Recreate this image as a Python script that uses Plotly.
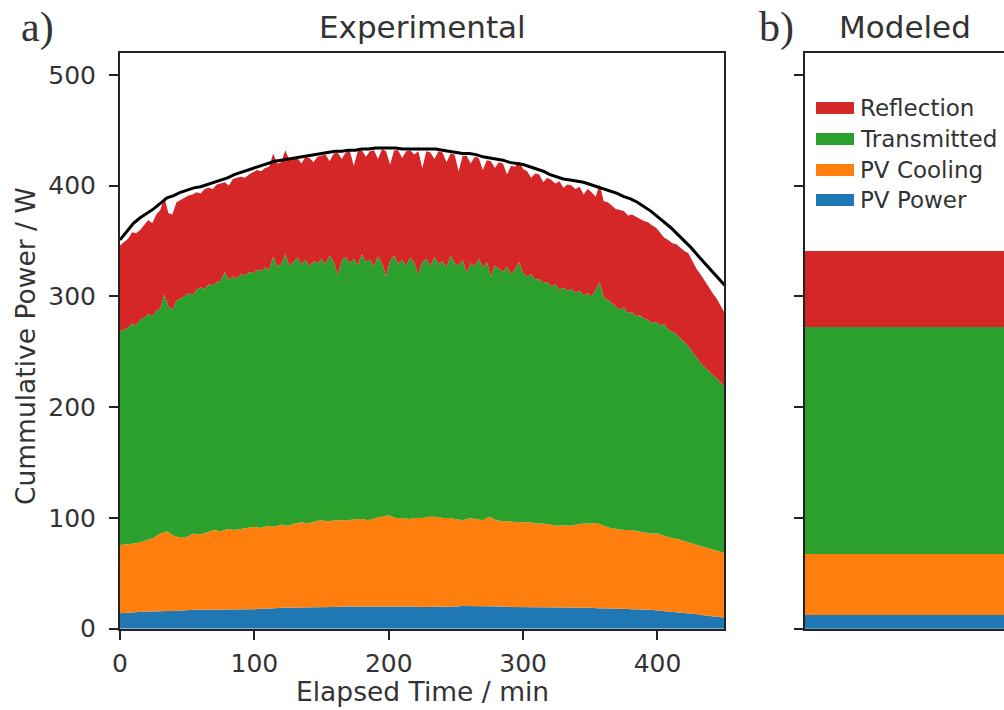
import plotly.graph_objects as go

# Elapsed time grids (min)
elapsed_5min = list(range(0, 451, 5))
elapsed_3min = list(range(0, 451, 3))

# Experimental data as cumulative power levels (W): each band's upper edge
# PV Power and PV Cooling logged every 5 min
pv_power_level = [
    14, 14.5, 15, 15, 15.5, 15.5, 16, 16, 16, 16.5,
    16.5, 17, 17, 17, 17.5, 17.5, 17.5, 17.5, 17.5, 17.5,
    17.5, 18, 18, 18.5, 19, 19, 19, 19, 19.5, 19.5,
    19.5, 19.5, 19.5, 20, 20, 20, 20, 20, 20, 20.5,
    20.5, 20.5, 20, 20, 20, 19.5, 19.5, 19.5, 20, 20,
    20, 20.5, 20.5, 20.5, 20.5, 20, 20, 20, 19.5, 19.5,
    19.5, 19.5, 19.5, 19, 19.5, 19.5, 19, 19, 19, 19,
    19, 18.5, 18.5, 18, 18, 18, 17.5, 17.5, 17, 17,
    16.5, 16, 15.5, 15, 14, 13.5, 13, 12, 11.5, 11,
    10,
]
pv_cooling_level = [
    75.5, 76, 77, 78, 80, 82, 86, 88, 84, 82,
    83, 86, 85, 87, 89, 88, 90, 89, 90, 91,
    92, 91, 93, 92, 94, 93, 95, 96, 95, 97,
    98, 97, 98, 98, 98, 99, 99, 98, 100, 101,
    102.5, 100, 100, 99, 100, 100, 101, 101, 100, 100,
    99, 98, 100, 99, 98, 101, 98, 97, 97, 96,
    96, 96, 95, 95, 94, 93, 93.5, 93, 94, 95,
    95, 95.5, 93, 91, 90, 89, 89, 88, 87, 86,
    86, 84, 82, 81, 79, 77, 75, 73.5, 72, 70,
    68.5,
]
# Transmitted and Reflection logged every 3 min
transmitted_level = [
    268, 270, 272, 275, 274, 279, 281, 284, 282, 287,
    289, 302, 291, 288, 296, 298, 300, 303, 301, 306,
    308, 307, 311, 310, 313, 314, 322, 315, 318, 316,
    320, 319, 322, 321, 324, 323, 326, 324, 336, 327,
    329, 338, 328, 331, 335, 329, 333, 327, 332, 330,
    334, 329, 337, 331, 319, 332, 336, 330, 334, 328,
    338, 331, 333, 327, 336, 330, 318, 332, 337, 329,
    333, 328, 335, 330, 320, 331, 334, 327, 336, 329,
    332, 326, 337, 330, 328, 333, 321, 330, 327, 334,
    326, 331, 318, 328, 325, 322, 327, 320, 324, 331,
    321, 318, 320, 315, 316, 312, 313, 309, 311, 306,
    308, 305, 307, 303, 305, 301, 303, 300, 306, 313,
    299, 297, 294, 291, 288, 290, 285, 286, 282, 283,
    280, 279, 276, 277, 274, 275, 270, 268, 266, 262,
    259, 255, 250, 244, 240, 236, 233, 229, 226, 222,
    219,
]
reflection_level = [
    346, 349, 352, 358, 357, 360, 364, 369, 366, 374,
    378, 390, 375, 374, 385, 387, 389, 391, 392, 394,
    393, 397, 398, 397, 401, 402, 403, 400, 406, 407,
    408, 407, 410, 412, 414, 413, 416, 417, 429, 420,
    421, 432, 423, 424, 425, 420, 426, 425, 421, 426,
    427, 428, 422, 429, 430, 424, 430, 431, 418, 431,
    432, 426, 431, 432, 424, 433, 431, 419, 432, 432,
    425, 431, 432, 428, 431, 416, 431, 430, 424, 431,
    430, 421, 429, 428, 413, 427, 427, 420, 426, 425,
    414, 423, 422, 416, 421, 420, 410, 418, 417, 422,
    415, 413, 407, 411, 410, 403, 407, 405, 402, 404,
    398, 401, 400, 397, 399, 392, 397, 394, 390, 401,
    386, 385, 382, 379, 378, 377, 373, 374, 372, 370,
    368, 367, 364, 362, 357, 353, 351, 348, 347, 344,
    341, 339, 332, 325, 320, 314, 309, 303, 298, 292,
    285,
]
# Total incident power (W), every 5 min
total_incident = [
    351, 358, 366, 371, 375, 379, 384, 389, 391, 394,
    396, 398, 399, 401, 403, 405, 407, 410, 412, 414,
    416, 418, 420, 422, 423, 424, 425, 426, 427, 428,
    429, 430, 431, 431, 432, 432, 433, 433, 434, 434,
    434, 434, 433, 433, 433, 433, 433, 433, 432, 431,
    430, 429, 429, 428, 426, 425, 424, 423, 421, 420,
    419, 417, 415, 413, 410, 408, 406, 405, 404, 403,
    401, 399, 397, 395, 393, 390, 388, 385, 381, 377,
    372, 367, 362, 356, 350, 344, 337, 330, 323, 316,
    310,
]

# Modeled power components (W), bottom to top
categories = ["PV Power", "PV Cooling", "Transmitted", "Reflection"]
modeled_values = [13, 55, 204.5, 68.5]
colors = ["#1f77b4", "#ff7f0e", "#2ca02c", "#d62728"]

experimental = [
    (elapsed_5min, pv_power_level),
    (elapsed_5min, pv_cooling_level),
    (elapsed_3min, transmitted_level),
    (elapsed_3min, reflection_level),
]

W, H = 1004, 710
FONT = "DejaVu Sans"
TXT = "#333333"
AX = "#222222"


def px_x(v):
    return v / W


def px_y(v):
    return 1 - v / H


fig = go.Figure()

# Bands filled between consecutive cumulative levels
for k, (name, (xs, ys), col) in enumerate(zip(categories, experimental, colors)):
    fig.add_trace(go.Scatter(
        x=xs, y=ys, name=name, mode="lines",
        fill="tozeroy" if k == 0 else "tonexty",
        line=dict(width=0, color=col), fillcolor=col,
        showlegend=False, xaxis="x", yaxis="y",
    ))

fig.add_trace(go.Scatter(
    x=elapsed_5min, y=total_incident, mode="lines",
    line=dict(color="black", width=3), showlegend=False,
    xaxis="x", yaxis="y",
))

for name, val, col in zip(categories, modeled_values, colors):
    fig.add_trace(go.Bar(
        x=[0], y=[val], width=[1], name=name,
        marker=dict(color=col, line=dict(width=0)),
        showlegend=False, xaxis="x2", yaxis="y2",
    ))

y_dom = [px_y(628.7), px_y(52.7)]
tick_font = dict(family=FONT, size=25, color=TXT)

fig.update_layout(
    width=W, height=H, autosize=False,
    margin=dict(l=0, r=0, t=0, b=0, autoexpand=False),
    paper_bgcolor="white", plot_bgcolor="white",
    barmode="stack", bargap=0,
    xaxis=dict(
        domain=[px_x(120), px_x(724)], range=[0, 449.5], automargin=False,
        tickvals=[0, 100, 200, 300, 400], ticks="outside", ticklen=9,
        tickwidth=2, tickcolor=AX, showline=True, linewidth=2, linecolor=AX,
        mirror=True, showgrid=False, zeroline=False, tickfont=tick_font,
        ticklabelstandoff=2,
    ),
    yaxis=dict(
        domain=y_dom, range=[0, 520], automargin=False,
        tickvals=[0, 100, 200, 300, 400, 500], ticks="outside", ticklen=9,
        tickwidth=2, tickcolor=AX, showline=True, linewidth=2, linecolor=AX,
        mirror=True, showgrid=False, zeroline=False, tickfont=tick_font,
        ticklabelstandoff=8,
    ),
    xaxis2=dict(
        domain=[px_x(805), 1.0], range=[-0.5, 0.5], anchor="y2",
        automargin=False, showticklabels=False, ticks="", showline=True,
        linewidth=2, linecolor=AX, mirror=True, showgrid=False,
        zeroline=False,
    ),
    yaxis2=dict(
        domain=y_dom, range=[0, 520], anchor="x2", automargin=False,
        tickvals=[0, 100, 200, 300, 400, 500], ticks="outside", ticklen=9,
        tickwidth=2, tickcolor=AX, showticklabels=False, showline=True,
        linewidth=2, linecolor=AX, showgrid=False, zeroline=False,
    ),
)

annotations = [
    dict(text="Experimental", x=px_x(422), y=px_y(27), size=31, family=FONT),
    dict(text="Modeled", x=px_x(905), y=px_y(27), size=31, family=FONT),
    dict(text="Elapsed Time / min", x=px_x(422), y=px_y(691), size=26.5, family=FONT),
    dict(text="a)", x=px_x(37), y=px_y(28), size=42, family="Liberation Serif"),
    dict(text="b)", x=px_x(776), y=px_y(28), size=42, family="Liberation Serif"),
]
for a in annotations:
    fig.add_annotation(
        text=a["text"], x=a["x"], y=a["y"], xref="paper", yref="paper",
        showarrow=False, xanchor="center", yanchor="middle",
        font=dict(family=a["family"], size=a["size"], color=TXT),
    )

fig.add_annotation(
    text="Cummulative Power / W", x=px_x(25), y=px_y(346), xref="paper",
    yref="paper", showarrow=False, textangle=-90, xanchor="center",
    yanchor="middle", font=dict(family=FONT, size=26.5, color=TXT),
)

# Legend for the modeled panel, top entry first
legend_rows = [108, 139, 170, 200]
for row_y, name, col in zip(legend_rows, categories[::-1], colors[::-1]):
    fig.add_shape(
        type="rect", xref="paper", yref="paper",
        x0=px_x(816), x1=px_x(854), y0=px_y(row_y + 6), y1=px_y(row_y - 6),
        fillcolor=col, line=dict(width=0),
    )
    fig.add_annotation(
        text=name, x=px_x(858), y=px_y(row_y), xref="paper", yref="paper",
        showarrow=False, xanchor="left", yanchor="middle",
        font=dict(family=FONT, size=23, color=TXT),
    )

fig.write_html("out.html")
